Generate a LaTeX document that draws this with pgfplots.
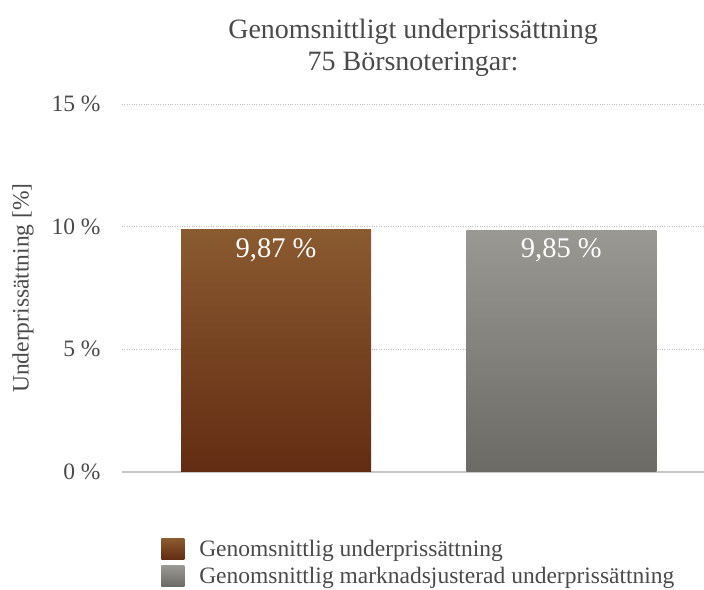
\documentclass[border=0pt]{standalone}
\usepackage{pgfplots}
\pgfplotsset{compat=1.18}
\usepackage{fontspec}
\setmainfont{Liberation Serif}
\usetikzlibrary{calc}
\definecolor{txt}{HTML}{4A4A4A}
\definecolor{brtop}{RGB}{138,90,48}
\definecolor{brbot}{RGB}{98,44,18}
\definecolor{grtop}{RGB}{154,152,146}
\definecolor{grbot}{RGB}{108,106,101}
\begin{document}
\begin{tikzpicture}
\begin{axis}[
  scale only axis,
  width=582pt, height=368pt,
  xmin=-0.54, xmax=1.5,
  ymin=0, ymax=15,
  ytick={0,5,10,15},
  yticklabels={0 \%,5 \%,10 \%,15 \%},
  xtick=\empty,
  axis line style={draw=none},
  major tick length=0pt,
  ymajorgrids,
  grid style={dotted, gray!50, line width=0.8pt},
  extra y ticks={0},
  extra y tick labels={},
  extra y tick style={grid style={solid, gray!45, line width=1.2pt}},
  ticklabel style={font=\fontsize{23.5}{26}\selectfont, text=txt},
  yticklabel style={xshift=-18pt},
  ylabel={Underprissättning [\%]},
  every axis y label/.style={at={(rel axis cs:-0.170,0.5)}, rotate=90, anchor=center,
     font=\fontsize{23.5}{26}\selectfont, text=txt},
  title={Genomsnittligt underprissättning\\75 Börsnoteringar:},
  title style={font=\fontsize{28}{32}\selectfont, text=txt, align=center, yshift=18pt},
  ybar, bar width=190pt, bar shift=0pt,
  point meta=explicit symbolic,
  nodes near coords,
  every node near coord/.append style={anchor=north, yshift=-5pt, text=white, font=\fontsize{28.5}{30}\selectfont},
  legend style={at={(rel axis cs:0.062,-0.175)}, anchor=north west, draw=none, fill=none,
    font=\fontsize{23.5}{26}\selectfont, text=txt, row sep=5pt,
    cells={anchor=west}},
  legend cell align=left,
]
\addplot[draw=none, top color=brtop, bottom color=brbot,
  legend image code/.code={\path[top color=brtop, bottom color=brbot] (0pt,-10pt) rectangle (23pt,11pt);}]
  coordinates {(0,9.87) [{9,87 \%}]};
\addlegendentry{\hspace{13pt}Genomsnittlig underprissättning}
\addplot[draw=none, top color=grtop, bottom color=grbot,
  legend image code/.code={\path[top color=grtop, bottom color=grbot] (0pt,-10pt) rectangle (23pt,11pt);}]
  coordinates {(1,9.85) [{9,85 \%}]};
\addlegendentry{\hspace{13pt}Genomsnittlig marknadsjusterad underprissättning}
\end{axis}
\pgfresetboundingbox
\path[use as bounding box] ($(current axis.south west)+(-122pt,-118pt)$) rectangle ($(current axis.north east)+(0pt,104pt)$);
\end{tikzpicture}
\end{document}
